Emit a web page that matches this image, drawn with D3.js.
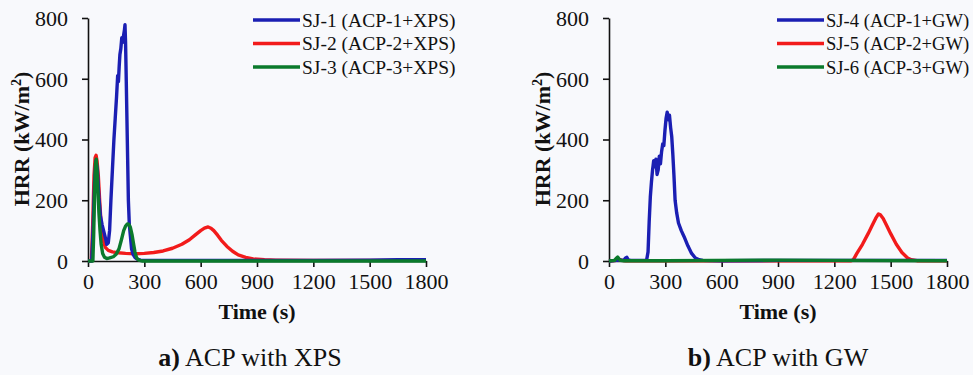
<!DOCTYPE html>
<html>
<head>
<meta charset="utf-8">
<script src="https://cdn.jsdelivr.net/npm/d3@7"></script>
<style>
  body { margin: 0; background: #f8f9fc; }
  svg text { font-family: "Times New Roman", Times, "Liberation Serif", Tinos, "Noto Serif", "DejaVu Serif", FreeSerif, serif; }
  .axis path, .axis line { stroke: #111; stroke-width: 1.6; }
  .axis text { font-size: 22px; fill: #111; }
</style>
</head>
<body>
<script>
// panel a) ACP with XPS
var timeSJ1 = [0,20,28,35,42,50,58,66,75,85,95,100,108,115,122,130,138,145,152,158,162,166,170,175,180,185,190,194,197,200,203,207,211,215,220,226,232,240,250,262,280,320,400,600,900,1200,1500,1650,1800]
var hrrSJ1  = [0,0,120,260,330,300,210,150,120,95,70,55,60,100,200,300,400,470,540,610,590,640,680,700,735,720,745,760,778,720,620,480,340,200,120,80,40,22,12,6,3,2,2,2,2,2,3,4,4]

var timeSJ2 = [0,18,25,32,38,43,48,55,62,70,80,92,108,130,160,200,250,300,350,400,450,500,540,570,600,620,640,655,670,690,710,740,770,800,840,880,940,1000,1200,1500,1800]
var hrrSJ2  = [0,0,120,280,340,348,330,280,200,120,70,45,35,30,27,25,24,25,28,33,42,55,70,85,100,108,112,108,100,85,68,48,32,20,12,7,4,3,2,2,2]

var timeSJ3 = [0,26,30,35,40,44,48,53,58,64,70,78,88,100,115,135,150,165,178,190,200,210,218,226,235,243,250,258,265,275,290,400,1800]
var hrrSJ3  = [0,0,80,220,320,335,300,230,160,100,55,25,12,8,10,14,22,40,70,100,115,122,120,110,85,55,30,12,5,2,0,0,0]

// panel b) ACP with GW
var timeSJ4 = [0,40,60,80,88,95,102,115,200,208,214,220,226,232,238,244,250,256,262,268,274,280,286,292,298,304,310,316,322,328,334,340,346,352,360,370,385,400,420,440,460,480,500,600,900,1200,1500,1800]
var hrrSJ4  = [0,2,3,3,10,12,4,2,2,30,130,210,260,300,330,310,335,285,300,345,320,360,385,380,430,470,490,465,480,440,410,350,280,200,160,125,100,80,50,25,10,4,2,1,2,2,2,2]

var timeSJ5 = [0,40,55,70,90,300,900,1290,1300,1320,1350,1380,1400,1420,1435,1445,1460,1480,1500,1530,1560,1590,1610,1640,1800]
var hrrSJ5  = [0,2,5,2,1,1,1,1,3,25,55,90,115,140,155,152,140,115,90,55,28,10,4,1,1]

var timeSJ6 = [0,30,40,46,52,60,80,300,900,1200,1800]
var hrrSJ6  = [0,2,10,13,8,2,1,1,3,2,1]

var xTicks = [0,300,600,900,1200,1500,1800]
var yTicks = [0,200,400,600,800]
var colors = ["#1b1fb3", "#f21b1b", "#0b7a2c"]

var width = 973, height = 375

var svg = d3.select("body").append("svg")
    .attr("width", width)
    .attr("height", height)
    .style("display", "block")

svg.append("rect").attr("width", width).attr("height", height).attr("fill", "#f8f9fc")

function zip(t, v) { return t.map(function(d, i) { return [d, v[i]]; }); }

function panel(left, series, names, caption, legendX, legendSize, capX) {
  var x = d3.scaleLinear().domain([0, 1800]).range([left, left + 338])
  var y = d3.scaleLinear().domain([0, 800]).range([261, 18])

  var g = svg.append("g")

  g.append("g")
      .attr("class", "axis")
      .attr("transform", "translate(0,261)")
      .call(d3.axisBottom(x).tickValues(xTicks).tickFormat(d3.format("d")).tickSize(6).tickPadding(6).tickSizeOuter(0))
      .attr("font-family", null).attr("font-size", null)
    .selectAll("text").attr("dy", "0.72em")

  g.append("g")
      .attr("class", "axis")
      .attr("transform", "translate(" + left + ",0)")
      .call(d3.axisLeft(y).tickValues(yTicks).tickFormat(d3.format("d")).tickSize(6).tickPadding(14).tickSizeOuter(0))
      .attr("font-family", null).attr("font-size", null)
    .selectAll("text").attr("dy", "0.33em")

  var line = d3.line()
      .x(function(d) { return x(d[0]); })
      .y(function(d) { return y(d[1]); })

  var order = [1, 0, 2]
  order.forEach(function(i) {
    g.append("path")
        .datum(series[i])
        .attr("fill", "none")
        .attr("stroke", colors[i])
        .attr("stroke-width", 3.4)
        .attr("stroke-linejoin", "round")
        .attr("d", line)
  })

  var leg = g.selectAll(".leg")
      .data(names)
    .enter().append("g")
      .attr("transform", function(d, i) { return "translate(" + legendX + "," + (20 + i * 23.5) + ")"; })

  leg.append("line")
      .attr("x1", 0).attr("x2", 47)
      .attr("stroke", function(d, i) { return colors[i]; })
      .attr("stroke-width", 3.4)

  leg.append("text")
      .attr("x", 49)
      .attr("dy", "0.35em")
      .style("font-size", legendSize + "px")
      .attr("fill", "#111")
      .text(function(d) { return d; })

  var ylab = g.append("text")
      .attr("transform", "translate(" + (left - 59) + ",139) rotate(-90)")
      .attr("text-anchor", "middle")
      .style("font-size", "22px")
      .style("font-weight", "bold")
      .attr("fill", "#111")
  ylab.append("tspan").text("HRR (kW/m")
  ylab.append("tspan").attr("dy", -8).style("font-size", "14px").text("2")
  ylab.append("tspan").attr("dy", 8).text(")")

  g.append("text")
      .attr("x", left + 169)
      .attr("y", 319)
      .attr("text-anchor", "middle")
      .style("font-size", "22px")
      .style("font-weight", "bold")
      .attr("fill", "#111")
      .text("Time (s)")

  var cap = g.append("text")
      .attr("x", capX)
      .attr("y", 366)
      .attr("text-anchor", "middle")
      .style("font-size", "26px")
      .attr("fill", "#111")
  cap.append("tspan").style("font-weight", "bold").text(caption[0])
  cap.append("tspan").text(" " + caption[1])
}

panel(88,
  [zip(timeSJ1, hrrSJ1), zip(timeSJ2, hrrSJ2), zip(timeSJ3, hrrSJ3)],
  ["SJ-1 (ACP-1+XPS)", "SJ-2 (ACP-2+XPS)", "SJ-3 (ACP-3+XPS)"],
  ["a)", "ACP with XPS"], 253, 19.5, 250)

panel(609,
  [zip(timeSJ4, hrrSJ4), zip(timeSJ5, hrrSJ5), zip(timeSJ6, hrrSJ6)],
  ["SJ-4 (ACP-1+GW)", "SJ-5 (ACP-2+GW)", "SJ-6 (ACP-3+GW)"],
  ["b)", "ACP with GW"], 777, 18.6, 778)
</script>
</body>
</html>
